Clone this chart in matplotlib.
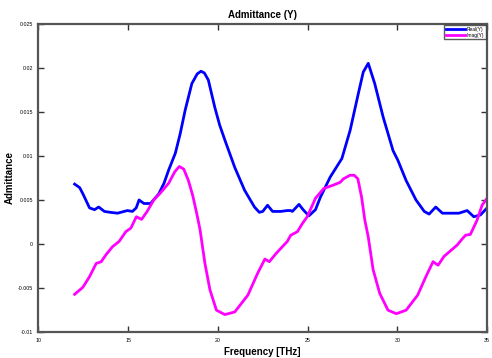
import matplotlib
matplotlib.use("Agg")
import matplotlib.pyplot as plt

plt.rcParams['font.family'] = ['Liberation Sans', 'DejaVu Sans']

# Real(Y)
real_x = [12.02, 12.3, 12.48, 12.85, 13.13, 13.36, 13.68, 14.0, 14.41, 14.96, 15.24, 15.45, 15.61,
          15.88, 16.25, 16.71, 17.0, 17.26, 17.63, 17.9, 18.18, 18.55, 18.85, 19.06, 19.25,
          19.47, 19.83, 20.1, 20.39, 20.94, 21.49, 22.04, 22.31, 22.5, 22.77, 23.05, 23.5,
          23.87, 24.06, 24.15, 24.52, 24.75, 25.07, 25.44, 25.71, 26.26, 26.91, 27.37, 27.83,
          28.1, 28.38, 28.74, 29.21, 29.76, 30.03, 30.49, 31.04, 31.5, 31.77, 32.14, 32.51,
          33.0, 33.43, 33.89, 34.26, 34.63, 35.0]
real_y = [0.0068, 0.0064, 0.0057, 0.0041, 0.0039, 0.0042, 0.0037, 0.0036, 0.0035, 0.0038,
          0.0037, 0.0041, 0.0050, 0.0046, 0.0046, 0.0057, 0.0069, 0.0084, 0.0103, 0.0125,
          0.0152, 0.0182, 0.0193, 0.0196, 0.0194, 0.0186, 0.0155, 0.0135, 0.0118, 0.0087,
          0.0061, 0.0042, 0.0036, 0.0037, 0.0044, 0.0037, 0.0037, 0.0038, 0.0038, 0.0037,
          0.0045, 0.0039, 0.0032, 0.0039, 0.0053, 0.0076, 0.0097, 0.0129, 0.0171, 0.0195,
          0.0205, 0.0182, 0.0144, 0.0106, 0.0095, 0.0072, 0.0050, 0.0037, 0.0034, 0.0042,
          0.0035, 0.0035, 0.0035, 0.0038, 0.0031, 0.0033, 0.0041]

# Imag(Y)
imag_x = [12.02, 12.48, 12.85, 13.22, 13.5, 13.77, 14.13, 14.5, 14.87, 15.15, 15.46, 15.75,
          16.06, 16.43, 16.8, 17.26, 17.6, 17.85, 18.1, 18.36, 18.6, 18.82, 19.01, 19.28,
          19.56, 19.92, 20.39, 20.94, 21.67, 22.22, 22.62, 22.87, 23.23, 23.87, 24.06, 24.43,
          24.7, 24.98, 25.44, 25.9, 26.45, 26.81, 27.0, 27.36, 27.6, 27.8, 28.01, 28.19,
          28.38, 28.65, 29.02, 29.48, 29.94, 30.49, 31.13, 31.59, 31.99, 32.27, 32.6, 33.34,
          33.62, 33.8, 34.07, 34.44, 34.72, 35.0]
imag_y = [-0.0057, -0.0049, -0.0037, -0.0022, -0.0020, -0.0012, -0.0003, 0.0003, 0.0014,
          0.0018, 0.0031, 0.0028, 0.0037, 0.0050, 0.0058, 0.0069, 0.0082, 0.0088, 0.0085,
          0.0072, 0.0055, 0.0035, 0.0016, -0.0022, -0.0052, -0.0075, -0.0080, -0.0077,
          -0.0058, -0.0033, -0.0017, -0.0020, -0.0011, 0.0003, 0.0010, 0.0014, 0.0023,
          0.0031, 0.0052, 0.0063, 0.0067, 0.0070, 0.0074, 0.0078, 0.0078, 0.0074, 0.0053,
          0.0027, 0.0008, -0.0029, -0.0056, -0.0075, -0.0079, -0.0075, -0.0058, -0.0037,
          -0.0020, -0.0024, -0.0014, -0.0001, 0.0006, 0.0010, 0.0011, 0.0027, 0.0044, 0.0052]

xticks = [10, 15, 20, 25, 30, 35]
yticks = [-0.01, -0.005, 0, 0.005, 0.01, 0.015, 0.02, 0.025]
yticklabels = ['-0.01', '-0.005', '0', '0.005', '0.01', '0.015', '0.02', '0.025']

fig = plt.figure(figsize=(4.92, 3.58), dpi=100)
ax = fig.add_axes([0.078, 0.072, 0.912, 0.862])

ax.plot(real_x, real_y, color='#0000ff', lw=2.0, label='Real(Y)')
ax.plot(imag_x, imag_y, color='#ff00ff', lw=2.0, label='Imag(Y)')

ax.set_xlim(10, 35)
ax.set_ylim(-0.01, 0.025)
ax.set_xticks(xticks)
ax.set_xticklabels([str(t) for t in xticks])
ax.set_yticks(yticks)
ax.set_yticklabels(yticklabels)
ax.tick_params(direction='in', length=4, width=1, labelsize=3.8, top=True, right=True,
               color='#333333', pad=4)

for s in ax.spines.values():
    s.set_linewidth(1.6)
    s.set_color('#555555')

ax.set_title('Admittance (Y)', fontsize=7, fontweight='bold', pad=4)
ax.set_xlabel('Frequency [THz]', fontsize=7, fontweight='bold', labelpad=3)
ax.set_ylabel('Admittance', fontsize=7, fontweight='bold', labelpad=2)

leg = ax.legend(loc='upper right', fontsize=3.5, frameon=True, fancybox=False,
                edgecolor='#333333', handlelength=4, borderpad=0.3, labelspacing=0.2,
                handletextpad=0.3, borderaxespad=0.3)
leg.get_frame().set_linewidth(1.0)

fig.savefig('out.png', dpi=100)
